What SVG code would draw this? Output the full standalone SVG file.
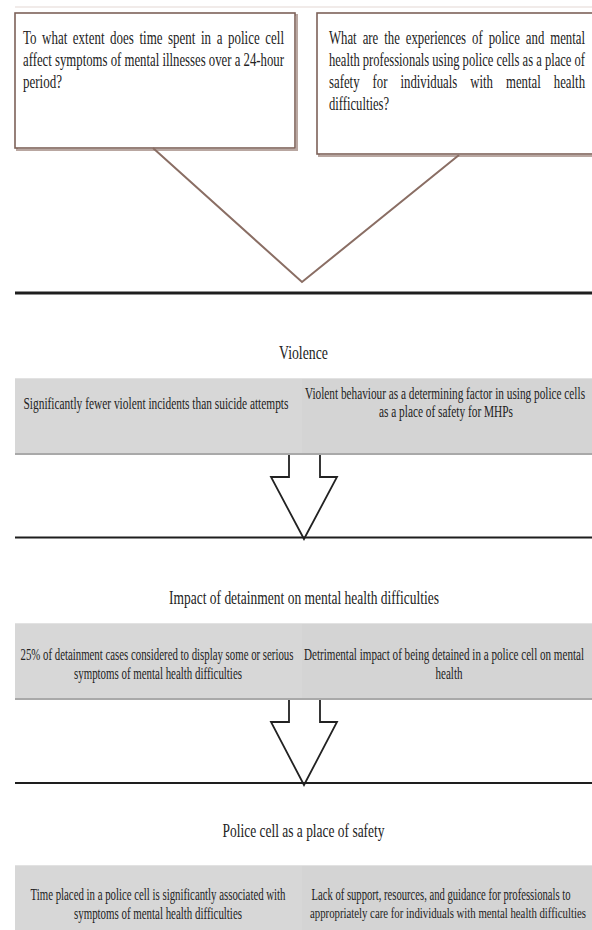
<svg xmlns="http://www.w3.org/2000/svg" width="592" height="930" viewBox="0 0 592 930">
<style>
  text { font-family: "Liberation Serif", "Times New Roman", serif; fill: #232323; }
  .q { font-size: 18px; }
  .h { font-size: 19px; }
  .b { font-size: 16px; }
  .qbox { fill: #ffffff; stroke: #7d6259; stroke-width: 1.6; }
  .qshadow { fill: none; stroke: #b9a7a1; stroke-width: 2; }
  .band { fill: #d4d4d4; }
  .bandL { fill: #d7d7d7; }
  .bandEdge { stroke: #a9a9a9; stroke-width: 2; }
  .bandTop { stroke: #e2e2e2; stroke-width: 1; }
  .v { fill: none; stroke: #8a6e64; stroke-width: 2; }
  .rule { stroke: #1e1e1e; }
  .arrow { fill: #ffffff; stroke: #222222; stroke-width: 1.8; stroke-linejoin: miter; }
</style>

<line x1="15" y1="7" x2="592" y2="7" stroke="#ece4e2" stroke-width="1.5"/>

<g id="q1">
  <rect class="qshadow" x="17" y="15" width="280" height="135"/>
  <rect class="qbox" x="15" y="13" width="280" height="135"/>
  <g transform="scale(0.71 1)">
    <text class="q" x="32.39" y="44" textLength="367.6" lengthAdjust="spacingAndGlyphs" style="word-spacing:3.3px">To what extent does time spent in a police cell</text>
    <text class="q" x="32.39" y="66" textLength="367.6" lengthAdjust="spacingAndGlyphs">affect symptoms of mental illnesses over a 24-hour</text>
    <text class="q" x="32.39" y="88" textLength="54.9" lengthAdjust="spacingAndGlyphs">period?</text>
  </g>
</g>

<g id="q2">
  <rect class="qshadow" x="319" y="15" width="290" height="141"/>
  <rect class="qbox" x="317" y="13" width="290" height="141"/>
  <g transform="scale(0.71 1)">
    <text class="q" x="463.38" y="44" textLength="360.6" lengthAdjust="spacingAndGlyphs" style="word-spacing:3.9px">What are the experiences of police and mental</text>
    <text class="q" x="463.38" y="66" textLength="360.6" lengthAdjust="spacingAndGlyphs">health professionals using police cells as a place of</text>
    <text class="q" x="463.38" y="88" textLength="360.6" lengthAdjust="spacingAndGlyphs" style="word-spacing:13.8px">safety for individuals with mental health</text>
    <text class="q" x="463.38" y="110" textLength="84.5" lengthAdjust="spacingAndGlyphs">difficulties?</text>
  </g>
</g>

<g id="connectors">
  <polyline class="v" points="153,148 302,282 459,155"/>
  <line class="rule" x1="15" y1="293" x2="592" y2="293" stroke-width="3"/>
  <polyline class="arrow" points="289,454 289,477 271,477 304,539 337,477 320,477 320,454"/>
  <line class="rule" x1="15" y1="537.5" x2="592" y2="537.5" stroke-width="2.2"/>
  <polyline class="arrow" points="289,699 289,722 271,722 304,785 337,722 320,722 320,699"/>
  <line class="rule" x1="15" y1="783" x2="592" y2="783" stroke-width="2.2"/>
</g>

<g id="violence">
  <rect class="band" x="15" y="378" width="577" height="76"/>
  <rect class="bandL" x="15" y="378" width="287" height="76"/>
  <line class="bandTop" x1="15" y1="378.5" x2="592" y2="378.5"/>
  <line class="bandEdge" x1="15" y1="454" x2="592" y2="454"/>
  <g transform="scale(0.71 1)">
    <text class="h" x="392.96" y="359" textLength="69" lengthAdjust="spacingAndGlyphs">Violence</text>
    <text class="b" x="33.1" y="409" textLength="373.2" lengthAdjust="spacingAndGlyphs">Significantly fewer violent incidents than suicide attempts</text>
    <text class="b" x="429.58" y="399" textLength="394.4" lengthAdjust="spacingAndGlyphs">Violent behaviour as a determining factor in using police cells</text>
    <text class="b" x="533.8" y="417" textLength="188.7" lengthAdjust="spacingAndGlyphs">as a place of safety for MHPs</text>
  </g>
</g>

<g id="impact">
  <rect class="band" x="15" y="623" width="577" height="76"/>
  <rect class="bandL" x="15" y="623" width="287" height="76"/>
  <line class="bandTop" x1="15" y1="623.5" x2="592" y2="623.5"/>
  <line class="bandEdge" x1="15" y1="699" x2="592" y2="699"/>
  <g transform="scale(0.71 1)">
    <text class="h" x="238.03" y="604" textLength="380.3" lengthAdjust="spacingAndGlyphs">Impact of detainment on mental health difficulties</text>
    <text class="b" x="28.87" y="660" textLength="384.5" lengthAdjust="spacingAndGlyphs">25% of detainment cases considered to display some or serious</text>
    <text class="b" x="104.23" y="679" textLength="236.6" lengthAdjust="spacingAndGlyphs">symptoms of mental health difficulties</text>
    <text class="b" x="428.17" y="660" textLength="394.4" lengthAdjust="spacingAndGlyphs">Detrimental impact of being detained in a police cell on mental</text>
    <text class="b" x="613.38" y="679" textLength="38" lengthAdjust="spacingAndGlyphs">health</text>
  </g>
</g>

<g id="safety">
  <rect class="band" x="15" y="865" width="577" height="65"/>
  <rect class="bandL" x="15" y="865" width="287" height="65"/>
  <line class="bandTop" x1="15" y1="865.5" x2="592" y2="865.5"/>
  <g transform="scale(0.71 1)">
    <text class="h" x="313.38" y="837" textLength="228.2" lengthAdjust="spacingAndGlyphs">Police cell as a place of safety</text>
    <text class="b" x="42.96" y="900" textLength="359.2" lengthAdjust="spacingAndGlyphs">Time placed in a police cell is significantly associated with</text>
    <text class="b" x="104.23" y="919" textLength="236.6" lengthAdjust="spacingAndGlyphs">symptoms of mental health difficulties</text>
    <text class="b" x="438.73" y="900" textLength="364.8" lengthAdjust="spacingAndGlyphs">Lack of support, resources, and guidance for professionals to</text>
    <text class="b" x="436.62" y="918.5" textLength="388.7" lengthAdjust="spacingAndGlyphs" style="font-size:15.3px">appropriately care for individuals with mental health difficulties</text>
  </g>
</g>
</svg>
